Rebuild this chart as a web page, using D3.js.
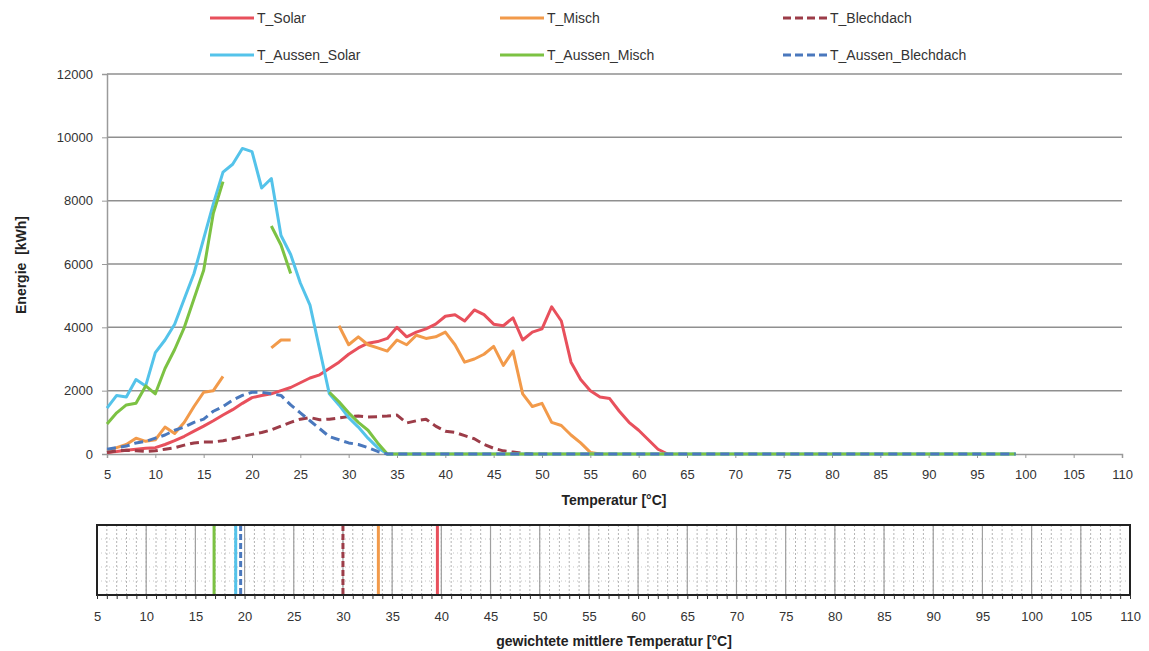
<!DOCTYPE html>
<html>
<head>
<meta charset="utf-8">
<script src="https://cdn.jsdelivr.net/npm/d3@7"></script>
<style>
  body { margin: 0; background: #fff; }
  svg { font-family: "Liberation Sans Narrow", "Liberation Sans", Arial, sans-serif; }
</style>
</head>
<body>
<div id="chart"></div>
<script>
// temperatures start at 5 °C, one value per degree; null = gap in the line
const tStart = 5;
const tSolar = [50, 80, 120, 150, 180, 200, 300, 420, 560, 720,
  880, 1050, 1230, 1400, 1600, 1780, 1850, 1900, 2000, 2100,
  2250, 2400, 2500, 2700, 2900, 3150, 3350, 3500, 3550, 3650,
  4000, 3700, 3850, 3950, 4100, 4350, 4400, 4200, 4550, 4400,
  4100, 4050, 4300, 3600, 3850, 3950, 4650, 4200, 2900, 2350,
  2000, 1800, 1750, 1350, 1000, 750, 450, 150, 0];
const tMisch = [100, 200, 300, 500, 400, 450, 850, 650, 1000, 1500,
  1950, 2000, 2450, null, null, null, null, 3350, 3600, 3600,
  null, null, null, null, 4050, 3450, 3700, 3450, 3350, 3250,
  3600, 3450, 3750, 3650, 3700, 3850, 3450, 2900, 3000, 3150,
  3400, 2800, 3250, 1900, 1500, 1600, 1000, 900, 600, 350,
  50, 0];
const tBlechdach = [50, 100, 120, 100, 80, 100, 150, 200, 280, 350,
  380, 380, 420, 480, 550, 620, 680, 760, 880, 1000,
  1100, 1150, 1080, 1100, 1140, 1180, 1200, 1170, 1180, 1200,
  1230, 980, 1050, 1100, 880, 720, 680, 580, 480, 300,
  180, 100, 60, 20, 0];
const tAussenSolar = [1450, 1850, 1800, 2350, 2150, 3200, 3600, 4100, 4900, 5700,
  6800, 7900, 8900, 9150, 9650, 9550, 8400, 8700, 6900, 6300,
  5400, 4700, 3300, 1900, 1550, 1150, 850, 500, 200, 0,
  0, 0, 0, 0, 0, 0, 0, 0, 0, 0,
  0, 0, 0, 0, 0, 0, 0, 0, 0, 0,
  0, 0, 0, 0, 0, 0, 0, 0, 0, 0,
  0, 0, 0, 0, 0, 0, 0, 0, 0, 0,
  0, 0, 0, 0, 0, 0, 0, 0, 0, 0,
  0, 0, 0, 0, 0, 0, 0, 0, 0, 0,
  0, 0, 0, 0, 0];
const tAussenMisch = [950, 1300, 1550, 1600, 2150, 1900, 2700, 3300, 4000, 4900,
  5800, 7600, 8600, null, null, null, null, 7200, 6600, 5700,
  null, null, null, 1950, 1650, 1300, 1000, 750, 350, 0,
  0, 0, 0, 0, 0, 0, 0, 0, 0, 0,
  0, 0, 0, 0, 0, 0, 0, 0, 0, 0,
  0, 0, 0, 0, 0, 0, 0, 0, 0, 0,
  0, 0, 0, 0, 0, 0, 0, 0, 0, 0,
  0, 0, 0, 0, 0, 0, 0, 0, 0, 0,
  0, 0, 0, 0, 0, 0, 0, 0, 0, 0,
  0, 0, 0, 0, 0];
const tAussenBlechdach = [150, 200, 250, 350, 400, 500, 600, 750, 850, 1000,
  1100, 1350, 1500, 1700, 1850, 1950, 1950, 1900, 1850, 1550,
  1300, 1050, 800, 550, 450, 350, 300, 200, 80, 0,
  0, 0, 0, 0, 0, 0, 0, 0, 0, 0,
  0, 0, 0, 0, 0, 0, 0, 0, 0, 0,
  0, 0, 0, 0, 0, 0, 0, 0, 0, 0,
  0, 0, 0, 0, 0, 0, 0, 0, 0, 0,
  0, 0, 0, 0, 0, 0, 0, 0, 0, 0,
  0, 0, 0, 0, 0, 0, 0, 0, 0, 0,
  0, 0, 0, 0, 0];

// weighted mean temperatures (bottom strip)
const meanNames = ['T_Aussen_Misch', 'T_Aussen_Solar', 'T_Aussen_Blechdach', 'T_Blechdach', 'T_Misch', 'T_Solar'];
const meanTemps = [16.9, 19.1, 19.6, 30.0, 33.6, 39.6];

const yTicks = [0, 2000, 4000, 6000, 8000, 10000, 12000];
const xTicks = [5, 10, 15, 20, 25, 30, 35, 40, 45, 50, 55, 60, 65, 70, 75, 80, 85, 90, 95, 100, 105, 110];

const series = [
  {name: 'T_Solar', values: tSolar, color: '#e8505c', dash: null},
  {name: 'T_Misch', values: tMisch, color: '#f29a4a', dash: null},
  {name: 'T_Blechdach', values: tBlechdach, color: '#9c3c48', dash: '9,5'},
  {name: 'T_Aussen_Solar', values: tAussenSolar, color: '#54c3ea', dash: null},
  {name: 'T_Aussen_Misch', values: tAussenMisch, color: '#7cc243', dash: null},
  {name: 'T_Aussen_Blechdach', values: tAussenBlechdach, color: '#4a78bd', dash: '9,5'}
];
const colorOf = {};
series.forEach(s => colorOf[s.name] = s);

const w = 1149, h = 651;
const svg = d3.select('#chart').append('svg').attr('width', w).attr('height', h);

// ---------- main chart ----------
const x = d3.scaleLinear().domain([5, 110]).range([107, 1122]);
const y = d3.scaleLinear().domain([0, 12000]).range([454, 74]);

svg.append('g')
  .selectAll('line').data(yTicks.slice(1)).enter().append('line')
  .attr('x1', x(5)).attr('x2', x(110))
  .attr('y1', d => y(d)).attr('y2', d => y(d))
  .attr('stroke', '#8f8f8f').attr('stroke-width', 1.5);

const yAxis = svg.append('g').attr('transform', 'translate(' + x(5) + ',0)')
  .call(d3.axisLeft(y).tickValues(yTicks).tickFormat(d3.format('d')).tickSize(5).tickPadding(9));
const xAxis = svg.append('g').attr('transform', 'translate(0,' + y(0) + ')')
  .call(d3.axisBottom(x).tickValues(xTicks).tickSize(4).tickPadding(12));
[yAxis, xAxis].forEach(a => {
  a.select('.domain').attr('stroke', '#9a9a9a').attr('stroke-width', 1.5);
  a.selectAll('.tick line').attr('stroke', '#9a9a9a');
  a.selectAll('text').attr('font-size', 13).attr('fill', '#333');
});

const line = d3.line()
  .defined(d => d != null)
  .x((d, i) => x(tStart + i))
  .y(d => y(d));

series.forEach(s => {
  svg.append('path')
    .datum(s.values)
    .attr('d', line)
    .attr('fill', 'none')
    .attr('stroke', s.color)
    .attr('stroke-width', 3)
    .attr('stroke-linejoin', 'round')
    .attr('stroke-dasharray', s.dash);
});

svg.append('text').attr('x', 614).attr('y', 505).attr('text-anchor', 'middle')
  .attr('font-size', 14).attr('font-weight', 'bold').attr('fill', '#222')
  .text('Temperatur [°C]');
svg.append('text').attr('transform', 'translate(26,265) rotate(-90)').attr('text-anchor', 'middle')
  .attr('font-size', 14).attr('font-weight', 'bold').attr('fill', '#222')
  .text('Energie\u00a0 [kWh]');

// ---------- legend ----------
const legendX = [210, 500, 783];
const legendY = [18, 55];
series.forEach((s, i) => {
  const lx = legendX[i % 3], ly = legendY[Math.floor(i / 3)];
  svg.append('line').attr('x1', lx).attr('x2', lx + 44).attr('y1', ly).attr('y2', ly)
    .attr('stroke', s.color).attr('stroke-width', 3).attr('stroke-dasharray', s.dash ? '8,4' : null);
  svg.append('text').attr('x', lx + 47).attr('y', ly + 5).attr('font-size', 14).attr('fill', '#333')
    .text(s.name);
});

// ---------- bottom strip: weighted mean temperature ----------
const xb = d3.scaleLinear().domain([5, 110]).range([97, 1130]);
const stripTop = 525, stripBottom = 595;

const strip = svg.append('g');
strip.selectAll('line.minor').data(d3.range(5, 111)).enter().append('line')
  .attr('x1', d => xb(d)).attr('x2', d => xb(d)).attr('y1', stripTop).attr('y2', stripBottom)
  .attr('stroke', '#b4b4b4').attr('stroke-dasharray', '2,2');
strip.selectAll('line.hdot').data([0.2, 0.4, 0.6, 0.8]).enter().append('line')
  .attr('x1', xb(5)).attr('x2', xb(110))
  .attr('y1', d => stripTop + d * (stripBottom - stripTop)).attr('y2', d => stripTop + d * (stripBottom - stripTop))
  .attr('stroke', '#c8c8c8').attr('stroke-dasharray', '1,3');
strip.selectAll('line.major').data(xTicks).enter().append('line')
  .attr('x1', d => xb(d)).attr('x2', d => xb(d)).attr('y1', stripTop).attr('y2', stripBottom)
  .attr('stroke', '#a0a0a0').attr('stroke-width', 1.2);

meanTemps.forEach((t, i) => {
  const s = colorOf[meanNames[i]];
  strip.append('line').attr('x1', xb(t)).attr('x2', xb(t)).attr('y1', stripTop).attr('y2', stripBottom)
    .attr('stroke', s.color).attr('stroke-width', 3)
    .attr('stroke-dasharray', s.dash ? '6,3' : null);
});

strip.append('rect').attr('x', xb(5)).attr('y', stripTop).attr('width', xb(110) - xb(5)).attr('height', stripBottom - stripTop)
  .attr('fill', 'none').attr('stroke', '#222').attr('stroke-width', 2);

const minorAxis = svg.append('g').attr('transform', 'translate(0,' + stripBottom + ')')
  .call(d3.axisBottom(xb).tickValues(d3.range(5, 111)).tickSize(4).tickFormat(''));
minorAxis.select('.domain').remove();
minorAxis.selectAll('.tick line').attr('stroke', '#333');
const bAxis = svg.append('g').attr('transform', 'translate(0,' + stripBottom + ')')
  .call(d3.axisBottom(xb).tickValues(xTicks).tickSize(0).tickPadding(17));
bAxis.select('.domain').remove();
bAxis.selectAll('text').attr('font-size', 13).attr('fill', '#333');

svg.append('text').attr('x', 614).attr('y', 646).attr('text-anchor', 'middle')
  .attr('font-size', 14).attr('font-weight', 'bold').attr('fill', '#222')
  .text('gewichtete mittlere Temperatur [°C]');
</script>
</body>
</html>
